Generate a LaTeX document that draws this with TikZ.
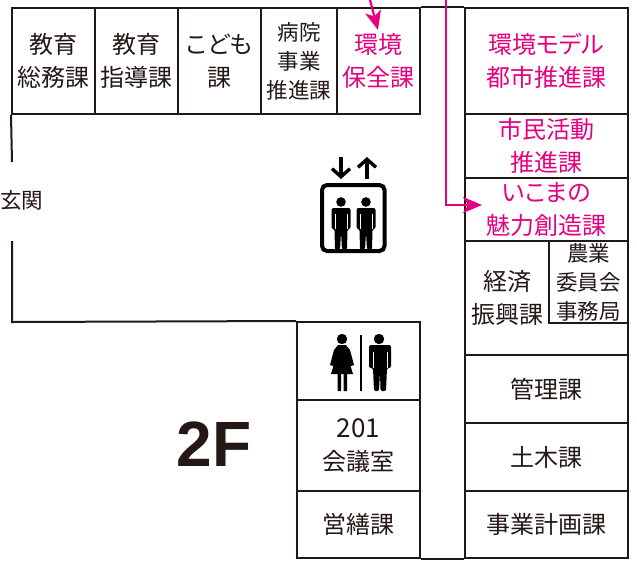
\documentclass[tikz,border=0pt]{standalone}
\usepackage{fontspec}
\setmainfont[RawFeature=+palt]{Noto Sans CJK JP}
\newfontfamily\latinbold{Liberation Sans}
\usepackage{xcolor}
\usetikzlibrary{arrows.meta}
\definecolor{inkblack}{HTML}{231815}
\definecolor{notepink}{HTML}{E6007E}

\begin{document}
\begin{tikzpicture}[x=1pt, y=-1pt,
    room/.style={rectangle, draw=inkblack, line width=2pt, inner sep=0pt, align=center, text=inkblack, font=\fontsize{24}{33}\selectfont},
    smallroom/.style={room, font=\fontsize{21.5}{29}\selectfont},
    hotroom/.style={room, text=notepink},
    wall/.style={draw=inkblack, line width=2pt},
    pointer/.style={draw=notepink, line width=2.2pt, -{Stealth[length=19pt, width=16pt, inset=5pt]}},
    figure/.style={fill=black, draw=none},
    slit/.style={draw=white, line width=0.8pt},
    liftarrow/.style={black, line width=3.4pt, -{Straight Barb[length=8pt, width=18pt]}},
]
\useasboundingbox (0,0) rectangle (637,563);

% Top row
\node[room, minimum width=83pt, minimum height=106pt] (somu) at (53.5, 61) {教育\\総務課};
\node[room, minimum width=83pt, minimum height=106pt] (shido) at (136.5, 61) {教育\\指導課};
\node[room, minimum width=83pt, minimum height=106pt] (kodomo) at (219.5, 61) {こども\\課};
\node[smallroom, minimum width=76pt, minimum height=106pt] (byoin) at (299, 61) {病院\\事業\\推進課};
\node[hotroom, minimum width=83pt, minimum height=106pt] (hozen) at (378.5, 61) {環境\\保全課};

% Right column
\node[hotroom, minimum width=163pt, minimum height=106pt] (model) at (546.5, 61) {環境モデル\\都市推進課};
\node[hotroom, minimum width=163pt, minimum height=64pt] (shimin) at (546.5, 146) {市民活動\\推進課};
\node[hotroom, minimum width=163pt, minimum height=63pt] (ikoma) at (546.5, 209.5) {いこまの\\魅力創造課};
\node[room, minimum width=163pt, minimum height=114pt] (keizaibox) at (546.5, 298) {};
\node[smallroom, minimum width=79pt, minimum height=82pt] (nogyo) at (588.5, 282) {農業\\委員会\\事務局};
\node[inner sep=0pt, align=center, text=inkblack, font=\fontsize{24}{33}\selectfont] (keizai) at (507, 298) {経済\\振興課};
\node[room, minimum width=163pt, minimum height=68pt] (kanri) at (546.5, 389) {管理課};
\node[room, minimum width=163pt, minimum height=68pt] (doboku) at (546.5, 457) {土木課};
\node[room, minimum width=163pt, minimum height=67pt] (jigyo) at (546.5, 524.5) {事業計画課};

% Middle column
\node[room, minimum width=123pt, minimum height=78pt] (toilet) at (358.5, 361) {};
\node[room, minimum width=123pt, minimum height=91pt] (kaigi) at (358.5, 445.5) {{\fontsize{26}{33}\selectfont 201}\\会議室};
\node[room, minimum width=123pt, minimum height=67pt] (eizen) at (358.5, 524.5) {営繕課};

% Walls
\coordinate (wallA) at (12, 162);
\coordinate (wallB) at (12, 241);
\coordinate (wallC) at (12, 322);
\draw[wall] (somu.south west) -- (wallA);
\draw[wall] (wallB) -- (wallC) -- (toilet.north west);
\draw[wall] (hozen.north east) -- (model.north west);
\draw[wall] (eizen.south east) -- (jigyo.south west);

% Entrance and floor
\node[text=inkblack, inner sep=0pt, font=\fontsize{21.5}{26}\selectfont] (genkan) at (21.5, 200) {玄関};
\node[text=inkblack, inner sep=0pt, font=\latinbold\bfseries\fontsize{64}{70}\selectfont] (floor) at (214, 444) {2F};

% Pointers
\coordinate (penA) at (370, 0);
\coordinate (penB) at (446, 0);
\coordinate (penC) at (446, 205);
\coordinate (penD) at (482, 205);
\coordinate (penE) at (378, 30);
\draw[pointer] (penA) -- (penE);
\draw[pointer] (penB) -- (penC) -- (penD);

% Lift
\draw[black, line width=4pt, rounded corners=5pt] (322, 185) rectangle (384.5, 251);
\draw[liftarrow] (341, 157) -- (341, 179);
\draw[liftarrow] (367, 179) -- (367, 157);
\foreach \x in {341, 366} {
    \fill[figure] (\x, 202) circle (4.8pt);
    \fill[figure, rounded corners=2pt] (\x-9.5, 208) -- (\x+9.5, 208) -- (\x+9.5, 229) -- (\x+6.5, 229) -- (\x+6, 250) -- (\x+1, 250) -- (\x, 232) -- (\x-1, 250) -- (\x-6, 250) -- (\x-6.5, 229) -- (\x-9.5, 229) -- cycle;
    \draw[slit] (\x-6, 214) -- (\x-6, 229);
    \draw[slit] (\x+6, 214) -- (\x+6, 229);
}

% Toilet
\draw[black, line width=2.4pt] (361, 335) -- (361, 391);
\fill[figure] (342, 339) circle (5.2pt);
\fill[figure] (338, 345) -- (346, 345) -- (350, 350) -- (354, 365) -- (351, 366) -- (349, 361) -- (353, 374) -- (347, 374) -- (347, 391) -- (343.5, 391) -- (343.5, 374) -- (341, 374) -- (341, 391) -- (337.5, 391) -- (337.5, 374) -- (331, 374) -- (335, 361) -- (333, 366) -- (330, 365) -- (334, 350) -- cycle;
\fill[figure] (379, 339) circle (5.2pt);
\fill[figure, rounded corners=2pt] (369, 345) -- (391, 345) -- (391, 368) -- (387, 368) -- (386, 391) -- (380.5, 391) -- (380, 371) -- (379, 391) -- (374, 391) -- (373, 368) -- (369, 368) -- cycle;
\draw[slit] (373, 352) -- (373, 368);
\draw[slit] (387, 352) -- (387, 368);

\end{tikzpicture}
\end{document}
